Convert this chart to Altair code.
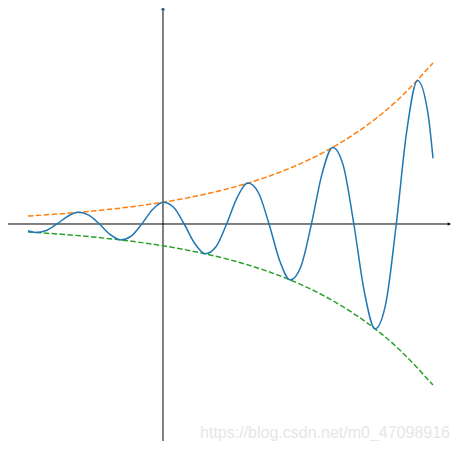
import altair as alt
import pandas as pd

curve_x = [-2.0, -1.885, -1.728, -1.571, -1.414, -1.257, -1.100, -0.942, -0.785,
           -0.628, -0.471, -0.314, -0.157, 0.0, 0.157, 0.314, 0.471, 0.628, 0.785,
           0.942, 1.100, 1.257, 1.414, 1.571, 1.728, 1.885, 2.042, 2.199, 2.356,
           2.513, 2.670, 2.827, 2.985, 3.142, 3.299, 3.456, 3.613, 3.770, 3.927, 4.0]
curve_y = [-0.309, -0.390, -0.298, 0.0, 0.349, 0.534, 0.408, 0.0, -0.477,
           -0.730, -0.559, 0.0, 0.654, 1.0, 0.765, 0.0, -0.895, -1.369, -1.047,
           0.0, 1.225, 1.875, 1.434, 0.0, -1.678, -2.566, -1.963, 0.0, 2.297,
           3.514, 2.688, 0.0, -3.145, -4.811, -3.679, 0.0, 4.305, 6.586, 5.038, 3.016]

env_x = [-2.0, -1.5, -1.0, -0.5, 0.0, 0.5, 1.0, 1.5, 2.0, 2.5, 3.0, 3.5, 4.0]
env_upper = [0.368, 0.472, 0.607, 0.779, 1.0, 1.284, 1.649, 2.117, 2.718, 3.490, 4.482, 5.755, 7.389]
env_lower = [-v for v in env_upper]

x_dom = [-2.2963, 4.2815]
y_dom = [-9.954, 9.908]

xs = alt.Scale(domain=x_dom, zero=False, nice=False)
ys = alt.Scale(domain=y_dom, zero=False, nice=False)

curve = pd.DataFrame({"x": curve_x, "y": curve_y})
upper = pd.DataFrame({"x": env_x, "y": env_upper})
lower = pd.DataFrame({"x": env_x, "y": env_lower})

xaxis_df = pd.DataFrame({"x": [x_dom[0]], "x2": [x_dom[1] - 0.03], "y": [0.0]})
yaxis_df = pd.DataFrame({"x": [0.0], "y": [y_dom[0]], "y2": [y_dom[1]]})
xarrow_df = pd.DataFrame({"x": [x_dom[1] - 0.04], "y": [0.0]})
yarrow_df = pd.DataFrame({"x": [0.0], "y": [y_dom[1] - 0.02]})

X = lambda: alt.X("x:Q", scale=xs, axis=None)
Y = lambda: alt.Y("y:Q", scale=ys, axis=None)

xaxis = alt.Chart(xaxis_df).mark_rule(color="black", strokeWidth=1).encode(
    x=X(), x2="x2:Q", y=Y())
yaxis = alt.Chart(yaxis_df).mark_rule(color="black", strokeWidth=1).encode(
    x=X(), y=Y(), y2="y2:Q")
xarrow = alt.Chart(xarrow_df).mark_point(shape="triangle-right", filled=True, color="black",
                                         size=14, opacity=1).encode(x=X(), y=Y())
yarrow = alt.Chart(yarrow_df).mark_point(shape="triangle-up", filled=True, color="#2a5a85",
                                         size=18, opacity=1).encode(x=X(), y=Y())

up_line = alt.Chart(upper).mark_line(color="#ff7f0e", strokeWidth=1.5, strokeDash=[5.5, 2.4],
                                     interpolate="natural").encode(x=X(), y=Y())
lo_line = alt.Chart(lower).mark_line(color="#2ca02c", strokeWidth=1.5, strokeDash=[5.5, 2.4],
                                     interpolate="natural").encode(x=X(), y=Y())
curve_line = alt.Chart(curve).mark_line(color="#1f77b4", strokeWidth=1.5,
                                        interpolate="monotone").encode(x=X(), y=Y())

watermark = alt.Chart(pd.DataFrame({"t": ["https://blog.csdn.net/m0_47098916"]})).mark_text(
    align="right", baseline="alphabetic", font="Liberation Sans", fontSize=16,
    color="#e6e6e6").encode(text="t:N", x=alt.value(442), y=alt.value(430))

chart = alt.layer(xaxis, yaxis, up_line, lo_line, curve_line, xarrow, yarrow, watermark).properties(
    width=444, height=433, padding=0, autosize=alt.AutoSizeParams(type="none"),
    background="white"
).configure_view(stroke=None)

chart.save("out.html", embed_options={"renderer": "svg", "actions": False})
